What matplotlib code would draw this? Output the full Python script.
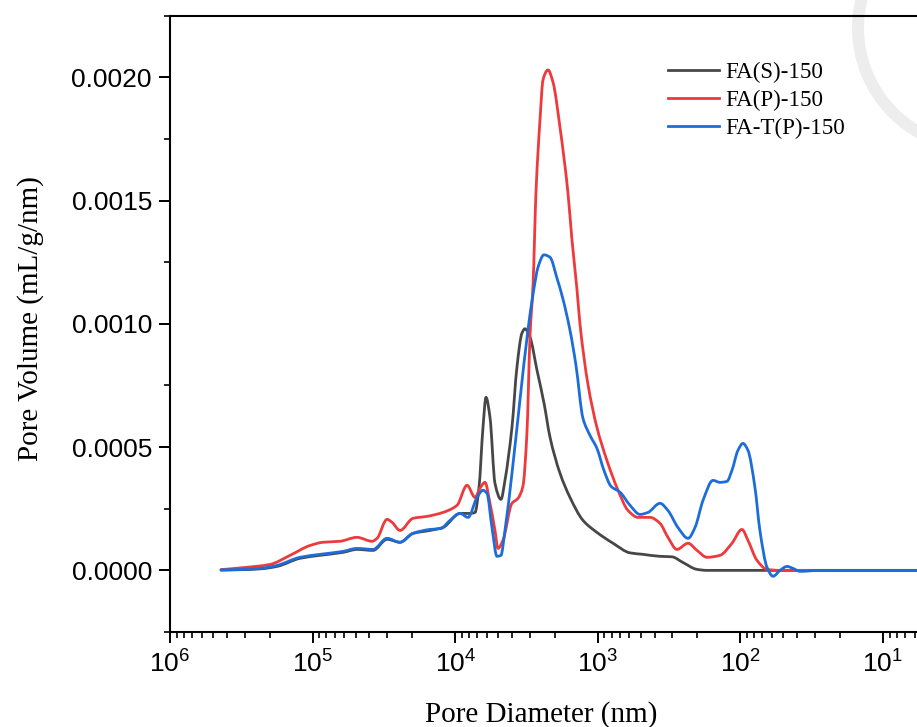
import numpy as np
import matplotlib
matplotlib.use("Agg")
import matplotlib.pyplot as plt
from matplotlib.ticker import FuncFormatter, MultipleLocator, LogLocator, NullFormatter
from matplotlib.patches import Wedge, PathPatch
from matplotlib.path import Path
from matplotlib.lines import Line2D

plt.rcParams['font.family'] = ['Liberation Sans', 'DejaVu Sans']
plt.rcParams['mathtext.fontset'] = 'custom'
plt.rcParams['mathtext.rm'] = 'Liberation Sans'
plt.rcParams['mathtext.it'] = 'Liberation Sans:italic'
plt.rcParams['mathtext.bf'] = 'Liberation Sans:bold'

series_labels = ["FA(S)-150", "FA(P)-150", "FA-T(P)-150"]
series_colors = ["#474747", "#ee3a3c", "#1c6dda"]

# log10 of pore diameter (nm) and differential pore volume (1e-4 mL/g/nm)
fa_s_logd = [5.642, 5.488, 5.369, 5.250, 5.088, 4.948, 4.787, 4.689, 4.576, 4.478,
             4.387, 4.296, 4.177, 4.086, 3.966, 3.896, 3.861, 3.833, 3.805, 3.784,
             3.756, 3.721, 3.679, 3.651, 3.602, 3.567, 3.532, 3.511, 3.475, 3.426,
             3.377, 3.335, 3.265, 3.195, 3.104, 3.006, 2.893, 2.774, 2.683, 2.564,
             2.480, 2.403, 2.304, 2.234, 1.722, 1.091, 0.500]
fa_s_vol = [0.01, 0.03, 0.06, 0.16, 0.49, 0.61, 0.73, 0.85, 0.81, 1.26,
            1.14, 1.50, 1.62, 1.74, 2.31, 2.31, 2.35, 3.37, 5.80, 7.02,
            6.21, 3.53, 2.88, 3.65, 5.80, 8.24, 9.62, 9.80, 9.45, 8.11,
            6.78, 5.40, 3.94, 2.96, 2.03, 1.54, 1.10, 0.71, 0.65, 0.57,
            0.55, 0.32, 0.04, 0.0, 0.0, 0.0, 0.0]

fa_p_logd = [5.642, 5.488, 5.299, 5.158, 5.018, 4.927, 4.808, 4.689, 4.583, 4.548,
             4.478, 4.443, 4.387, 4.296, 4.198, 4.086, 3.987, 3.917, 3.861, 3.826,
             3.791, 3.756, 3.721, 3.700, 3.665, 3.602, 3.560, 3.525, 3.497, 3.475,
             3.454, 3.433, 3.405, 3.384, 3.349, 3.314, 3.265, 3.209, 3.181, 3.146,
             3.125, 3.069, 3.006, 2.936, 2.858, 2.788, 2.718, 2.634, 2.564, 2.508,
             2.445, 2.367, 2.304, 2.234, 2.143, 2.059, 1.989, 1.947, 1.884, 1.813,
             1.722, 1.091, 0.500]
fa_p_vol = [0.03, 0.11, 0.24, 0.61, 1.01, 1.14, 1.18, 1.34, 1.18, 1.30,
            2.07, 1.95, 1.62, 2.11, 2.19, 2.35, 2.64, 3.45, 2.96, 3.33,
            3.57, 2.72, 1.62, 0.89, 1.22, 2.72, 2.92, 3.41, 5.56, 9.53,
            11.6, 15.4, 18.3, 19.9, 20.3, 19.8, 17.97, 15.3, 13.4, 11.4,
            10.0, 7.55, 5.80, 4.46, 3.25, 2.43, 2.15, 2.15, 1.91, 1.34,
            0.85, 1.10, 0.81, 0.53, 0.61, 1.10, 1.66, 1.22, 0.41, 0.04,
            0.0, 0.0, 0.0]

fa_tp_logd = [5.642, 5.488, 5.369, 5.250, 5.088, 4.948, 4.787, 4.689, 4.576, 4.478,
              4.387, 4.296, 4.177, 4.100, 4.036, 3.966, 3.910, 3.847, 3.805, 3.777,
              3.742, 3.707, 3.679, 3.651, 3.602, 3.546, 3.490, 3.454, 3.419, 3.377,
              3.335, 3.286, 3.244, 3.195, 3.153, 3.104, 3.055, 3.006, 2.957, 2.907,
              2.844, 2.774, 2.704, 2.648, 2.564, 2.508, 2.438, 2.367, 2.318, 2.262,
              2.192, 2.143, 2.094, 2.059, 2.017, 1.982, 1.947, 1.898, 1.863, 1.813,
              1.771, 1.722, 1.673, 1.631, 1.582, 1.442, 1.091, 0.500]
fa_tp_vol = [0.02, 0.04, 0.08, 0.20, 0.53, 0.65, 0.77, 0.89, 0.85, 1.30,
             1.14, 1.50, 1.66, 1.70, 2.03, 2.31, 2.15, 2.96, 3.25, 3.12,
             1.74, 0.57, 0.61, 1.62, 3.93, 6.90, 9.74, 11.2, 12.3, 12.8,
             12.7, 11.85, 11.0, 9.74, 8.32, 6.17, 5.48, 4.95, 4.06, 3.41,
             3.17, 2.64, 2.27, 2.35, 2.72, 2.43, 1.74, 1.30, 1.74, 2.84,
             3.65, 3.57, 3.61, 4.06, 4.87, 5.15, 4.87, 3.37, 1.62, 0.12,
             -0.24, 0.0, 0.16, 0.08, -0.04, 0.0, 0.0, 0.0]


def spline_path(logd, vol):
    """Smooth (monotone cubic Hermite) connection of the points, as Bezier segments."""
    x = np.asarray(logd, float)[::-1]
    y = np.asarray(vol, float)[::-1] * 1e-4
    h = np.diff(x)
    d = np.diff(y) / h
    m = np.zeros_like(x)
    m[0], m[-1] = d[0], d[-1]
    for i in range(1, len(x) - 1):
        if d[i - 1] * d[i] > 0:
            w1 = 2 * h[i] + h[i - 1]
            w2 = h[i] + 2 * h[i - 1]
            m[i] = (w1 + w2) / (w1 / d[i - 1] + w2 / d[i])
    verts = [(x[0], y[0])]
    codes = [Path.MOVETO]
    for i in range(len(x) - 1):
        verts += [(x[i] + h[i] / 3, y[i] + m[i] * h[i] / 3),
                  (x[i + 1] - h[i] / 3, y[i + 1] - m[i + 1] * h[i] / 3),
                  (x[i + 1], y[i + 1])]
        codes += [Path.CURVE4] * 3
    verts = np.array(verts)
    verts[:, 0] = 10 ** verts[:, 0]
    return Path(verts, codes)


W, H = 917, 727
fig = plt.figure(figsize=(W / 100, H / 100), dpi=100)

# faint seal watermark in the upper-right corner
wm = fig.add_axes([0, 0, 1, 1], zorder=0)
wm.set_xlim(0, W)
wm.set_ylim(H, 0)
wm.axis("off")
wm.add_patch(Wedge((978, 28), 126, 0, 360, width=12, facecolor="#e2e2e2",
                   edgecolor="none", alpha=0.6))

ax = fig.add_axes([170 / W, (H - 632) / H, 750 / W, 616.3 / H], zorder=1)
ax.patch.set_alpha(0)

all_series = [(fa_s_logd, fa_s_vol), (fa_p_logd, fa_p_vol), (fa_tp_logd, fa_tp_vol)]
handles = []
for (logd, vol), lab, col in zip(all_series, series_labels, series_colors):
    ax.add_patch(PathPatch(spline_path(logd, vol), facecolor="none", edgecolor=col,
                           lw=2.0, joinstyle="round", capstyle="round",
                           transform=ax.transData))
    handles.append(Line2D([], [], color=col, lw=2.0, label=lab))

ax.set_xscale("log")
ax.set_xlim(1e6, 5.5)
ax.set_ylim(-0.00025, 0.00225)

ax.xaxis.set_major_locator(LogLocator(base=10, numticks=10))
ax.xaxis.set_minor_locator(LogLocator(base=10, subs=np.arange(2, 10), numticks=20))
ax.xaxis.set_minor_formatter(NullFormatter())
ax.xaxis.set_major_formatter(FuncFormatter(
    lambda v, _: r"$\mathrm{10^{%d}}$" % int(round(np.log10(v)))))
ax.yaxis.set_major_locator(MultipleLocator(0.0005))
ax.yaxis.set_minor_locator(MultipleLocator(0.00025))
ax.yaxis.set_major_formatter(FuncFormatter(lambda v, _: f"{v:.4f}"))

for side in ["left", "bottom", "top"]:
    ax.spines[side].set_linewidth(1.5)
ax.spines["right"].set_visible(False)
ax.tick_params(which="major", direction="out", length=8, width=1.4,
               labelsize=19, pad=5)
ax.tick_params(which="minor", direction="out", length=4.3, width=1.2)
ax.tick_params(top=False, right=False, which="both")

ax.set_xlabel("Pore Diameter (nm)", family="Liberation Serif", fontsize=21)
ax.set_ylabel("Pore Volume (mL/g/nm)", family="Liberation Serif", fontsize=21)
ax.xaxis.set_label_coords((541 - 170) / 750, (632 - 701) / 616.3)
ax.yaxis.set_label_coords((44 - 170) / 750, (632 - 319) / 616.3)

leg = ax.legend(handles=handles, loc="upper left",
                bbox_to_anchor=(668 / W, (H - 62) / H),
                bbox_transform=fig.transFigure, frameon=False,
                prop={"family": "Liberation Serif", "size": 16.6},
                handlelength=2.2, handletextpad=0.28, labelspacing=0.3,
                borderpad=0, borderaxespad=0)

fig.savefig("out.png", dpi=100)
